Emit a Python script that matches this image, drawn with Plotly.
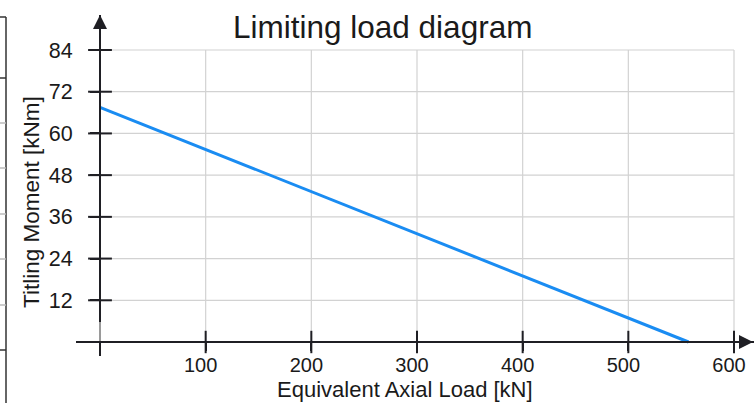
import plotly.graph_objects as go

# ---- data ----
axial_load = [0, 557]          # kN
tilting_moment = [67.5, 0]     # kNm
x_ticks = [100, 200, 300, 400, 500, 600]
y_ticks = [12, 24, 36, 48, 60, 72, 84]

W, H = 754, 403
ML, MR, MT, MB = 76, 0, 15, 47
PW, PH = W - ML - MR, H - MT - MB

def px2paper_x(px):
    return (px - ML) / PW

def px2paper_y(py):
    return (H - MB - py) / PH

AX = "#1f1f24"
GRID = "#d2d2d2"
BLUE = "#1a8cf2"
FONT = "Liberation Sans, Arial, sans-serif"

fig = go.Figure()

# main load line
fig.add_trace(go.Scatter(x=axial_load, y=tilting_moment, mode="lines",
                         line=dict(color=BLUE, width=3), showlegend=False,
                         hoverinfo="skip"))

# crossing ticks (inner halves)
fig.add_trace(go.Scatter(x=x_ticks, y=[0] * len(x_ticks), mode="markers",
                         marker=dict(symbol="line-ns", size=16,
                                     line=dict(color=AX, width=2)),
                         showlegend=False, hoverinfo="skip"))
fig.add_trace(go.Scatter(x=[0] * len(y_ticks), y=y_ticks, mode="markers",
                         marker=dict(symbol="line-ew", size=17,
                                     line=dict(color=AX, width=2)),
                         showlegend=False, hoverinfo="skip"))

shapes = []
# grid lines limited to tick region
for v in x_ticks:
    shapes.append(dict(type="line", xref="x", yref="y", x0=v, x1=v,
                       y0=0, y1=max(y_ticks), line=dict(color=GRID, width=1.2),
                       layer="below"))
for v in y_ticks:
    shapes.append(dict(type="line", xref="x", yref="y", x0=0, x1=max(x_ticks),
                       y0=v, y1=v, line=dict(color=GRID, width=1.2),
                       layer="below"))

# lighter segment of the y axis just above the origin
shapes.append(dict(type="line", xref="paper", yref="paper",
                   x0=px2paper_x(100), x1=px2paper_x(100),
                   y0=px2paper_y(341), y1=px2paper_y(322),
                   line=dict(color="#9a9a9a", width=2), layer="above"))

# decoration at left edge (fragment of neighbouring frame)
edge_x = px2paper_x(6)
shapes.append(dict(type="line", xref="paper", yref="paper",
                   x0=edge_x, x1=edge_x, y0=px2paper_y(17), y1=px2paper_y(403),
                   line=dict(color="#333", width=1.5)))
for py, col in [(17, "#333"), (78, "#333"), (123, "#bbb"), (168, "#bbb"),
                (214, "#bbb"), (259, "#bbb"), (305, "#bbb"), (350, "#333")]:
    shapes.append(dict(type="line", xref="paper", yref="paper",
                       x0=px2paper_x(0), x1=edge_x, y0=px2paper_y(py),
                       y1=px2paper_y(py), line=dict(color=col, width=1.5)))

x_scale = (734 - 100) / 600.0
y_scale = (342 - 50) / 84.0
x_range = [(ML - 100) / x_scale, (W - MR - 100) / x_scale]
y_range = [-(H - MB - 342) / y_scale, (342 - MT) / y_scale]

annotations = [
    # axis arrows
    dict(x=0, xref="x", y=1, yref="paper", ax=0, ay=24, axref="pixel",
         ayref="pixel", text="", showarrow=True, arrowhead=2, arrowsize=1.4,
         arrowwidth=2, arrowcolor=AX, standoff=0),
    dict(x=1, xref="paper", y=0, yref="y", ax=-24, ay=0, text="",
         showarrow=True, arrowhead=2, arrowsize=1.4, arrowwidth=2,
         arrowcolor=AX, standoff=0),
    # titles
    dict(text="Limiting load diagram", x=px2paper_x(382), y=px2paper_y(27),
         xref="paper", yref="paper", showarrow=False, xanchor="center",
         yanchor="middle", font=dict(size=31.5, color="#1a1a1a", family=FONT)),
    dict(text="Equivalent Axial Load [kN]", x=px2paper_x(405),
         y=px2paper_y(390), xref="paper", yref="paper", showarrow=False,
         xanchor="center", yanchor="middle",
         font=dict(size=22, color="#1a1a1a", family=FONT)),
    dict(text="Titling Moment [kNm]", x=px2paper_x(32), y=px2paper_y(202),
         xref="paper", yref="paper", showarrow=False, textangle=-90,
         xanchor="center", yanchor="middle",
         font=dict(size=22.5, color="#1a1a1a", family=FONT)),
]

fig.update_layout(
    width=W, height=H,
    margin=dict(l=ML, r=MR, t=MT, b=MB, pad=0),
    paper_bgcolor="white", plot_bgcolor="white",
    font=dict(family=FONT, color="#1a1a1a"),
    shapes=shapes, annotations=annotations, showlegend=False,
    xaxis=dict(range=x_range, showgrid=False, zeroline=False, showline=True,
               linecolor=AX, linewidth=2, anchor="free",
               position=px2paper_y(342), tickmode="array", tickvals=x_ticks,
               ticktext=[str(v) for v in x_ticks], ticks="outside",
               ticklen=8, tickwidth=2, tickcolor=AX,
               tickfont=dict(size=20, color="#1a1a1a"), ticklabelshift=-5,
               ticklabelstandoff=-3, fixedrange=True),
    yaxis=dict(range=y_range, showgrid=False, zeroline=False, showline=True,
               linecolor=AX, linewidth=2, anchor="free",
               position=px2paper_x(100), tickmode="array", tickvals=y_ticks,
               ticktext=[str(v) for v in y_ticks], ticks="outside",
               ticklen=9, tickwidth=2, tickcolor=AX,
               tickfont=dict(size=21.5, color="#1a1a1a"),
               ticklabelstandoff=13, fixedrange=True),
)

fig.write_html("out.html", config={"displayModeBar": False},
               post_script="document.body.style.margin='0';"
                           "document.body.style.overflow='hidden';")
